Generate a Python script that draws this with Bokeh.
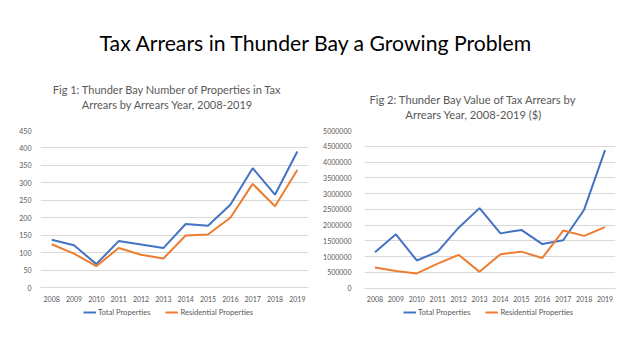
from bokeh.plotting import figure
from bokeh.layouts import column, row
from bokeh.models import (Range1d, Label, FixedTicker, BasicTickFormatter, Legend,
                          LegendItem, FactorRange, ColumnDataSource)
from bokeh.embed import file_html
from bokeh.resources import INLINE

# ---------------- data ----------------
years = ["2008", "2009", "2010", "2011", "2012", "2013",
         "2014", "2015", "2016", "2017", "2018", "2019"]
count_total = [137, 121, 67, 133, 123, 113, 182, 177, 237, 342, 266, 390]
count_resid = [124, 97, 61, 113, 94, 83, 149, 152, 200, 297, 233, 337]
value_total = [1140000, 1710000, 880000, 1160000, 1920000, 2540000,
               1740000, 1850000, 1400000, 1520000, 2490000, 4380000]
value_resid = [660000, 550000, 470000, 780000, 1060000, 520000,
               1080000, 1160000, 960000, 1830000, 1660000, 1940000]
count_ticks = [0, 50, 100, 150, 200, 250, 300, 350, 400, 450]
value_ticks = [0, 500000, 1000000, 1500000, 2000000, 2500000,
               3000000, 3500000, 4000000, 4500000, 5000000]

main_title = "Tax Arrears in Thunder Bay a Growing Problem"
fig1_title = ["Fig 1: Thunder Bay Number of Properties in Tax",
              "Arrears by Arrears Year, 2008-2019"]
fig2_title = ["Fig 2: Thunder Bay Value of Tax Arrears by",
              "Arrears Year, 2008-2019 ($)"]
series_names = ["Total Properties", "Residential Properties"]
colors = ["#4472C4", "#ED7D31"]

FONT = "Lato"
GREY = "#595959"
GRID = "#d9d9d9"
HEAD_H = 121
CHART_H = 229
FRAME_BOTTOM = 325   # page y where the (extended) frame ends
ZERO_Y = 287         # page y of the value axis' zero line

# ---------------- header (titles) ----------------
head = figure(width=630, height=HEAD_H, x_range=Range1d(0, 630), y_range=Range1d(HEAD_H, 0),
              x_axis_type=None, y_axis_type=None, toolbar_location=None,
              output_backend="svg", min_border=0, outline_line_color=None)
head.xgrid.visible = False
head.ygrid.visible = False
head.add_layout(Label(x=316, y=42, text=main_title, text_align="center",
                      text_baseline="middle", text_font=FONT, text_font_size="21.2px",
                      text_color="black"))
for i, t in enumerate(fig1_title):
    head.add_layout(Label(x=167, y=89 + 14.5 * i, text=t, text_align="center",
                          text_baseline="middle", text_font=FONT,
                          text_font_size="11px", text_color=GREY))
for i, t in enumerate(fig2_title):
    head.add_layout(Label(x=473, y=99 + 15 * i, text=t, text_align="center",
                          text_baseline="middle", text_font=FONT,
                          text_font_size="11.2px", text_color=GREY))


def make_chart(total, resid, ticks, width, top_y, left, right, standoff, legend_x):
    y_end = ticks[-1]
    top = top_y - HEAD_H
    px_per_unit = (ZERO_Y - top_y) / y_end
    y_start = -(FRAME_BOTTOM - ZERO_Y) / px_per_unit
    p = figure(width=width, height=CHART_H, x_range=FactorRange(*years),
               y_range=Range1d(y_start, y_end), toolbar_location=None,
               output_backend="svg", min_border_left=left, min_border_right=right,
               min_border_top=top, min_border_bottom=HEAD_H + CHART_H - FRAME_BOTTOM,
               outline_line_color=None)
    src = ColumnDataSource(dict(x=years, total=total, resid=resid))
    r1 = p.line("x", "total", source=src, line_color=colors[0], line_width=2)
    r2 = p.line("x", "resid", source=src, line_color=colors[1], line_width=2)
    p.xgrid.visible = False
    p.ygrid.grid_line_color = GRID
    p.ygrid.ticker = FixedTicker(ticks=ticks)
    p.yaxis.ticker = FixedTicker(ticks=ticks)
    p.yaxis.formatter = BasicTickFormatter(use_scientific=False)
    for ax in (p.xaxis, p.yaxis):
        ax.major_tick_line_color = None
        ax.minor_tick_line_color = None
        ax.major_label_text_font = FONT
        ax.major_label_text_font_size = "7px"
        ax.major_label_text_color = GREY
    p.yaxis.axis_line_color = None
    p.yaxis.major_label_standoff = standoff
    p.xaxis.axis_line_color = GRID
    p.xaxis.major_label_standoff = 2
    p.xaxis.fixed_location = 0
    legend = Legend(items=[LegendItem(label=series_names[0], renderers=[r1]),
                           LegendItem(label=series_names[1], renderers=[r2])],
                    location=(legend_x, 8), orientation="horizontal",
                    border_line_color=None, background_fill_alpha=0,
                    label_text_font=FONT, label_text_font_size="7.6px",
                    label_text_color=GREY, glyph_width=13, glyph_height=8,
                    label_standoff=2, spacing=15, padding=0, margin=0,
                    label_height=8)
    p.add_layout(legend)
    return p


p1 = make_chart(count_total, count_resid, count_ticks, 320, 130, 40, 12, 3, 43)
p2 = make_chart(value_total, value_resid, value_ticks, 310, 126, 43, 15, 7, 39)

layout = column(head, row(p1, p2))
open("out.html", "w").write(file_html(layout, INLINE))
